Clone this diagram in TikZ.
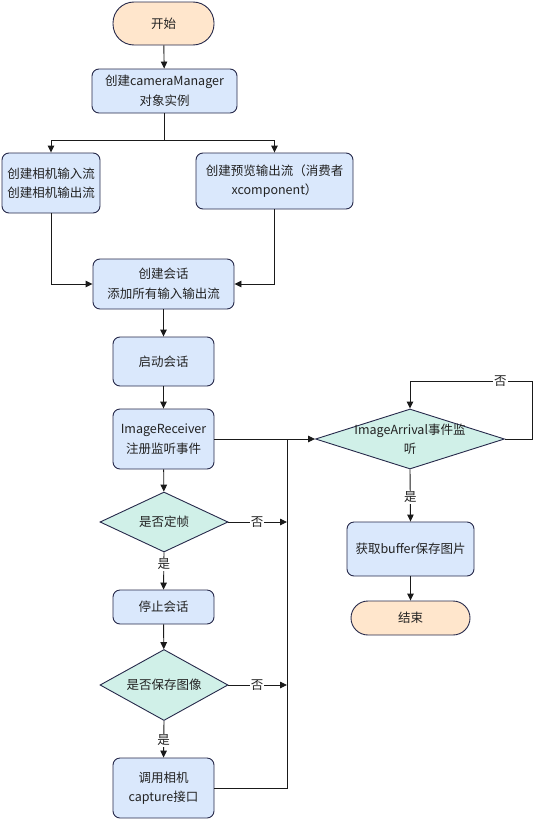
\documentclass[tikz,border=0pt]{standalone}
\usepackage{fontspec}
\setmainfont{Noto Sans CJK SC}
\usetikzlibrary{arrows.meta,shapes.geometric}
\definecolor{bordc}{HTML}{26294A}
\definecolor{linec}{HTML}{1A1A1A}
\definecolor{txtc}{HTML}{222222}
\definecolor{procc}{HTML}{DAE8FC}
\definecolor{termc}{HTML}{FFE6CC}
\definecolor{decc}{HTML}{D0F0E8}
\begin{document}
\begin{tikzpicture}[x=1pt,y=-1pt,
  font=\fontsize{12.5}{19.5}\selectfont,
  base/.style={draw=bordc, line width=0.9pt, align=center, inner sep=0pt, text=txtc},
  proc/.style={base, rectangle, rounded corners=7pt, fill=procc},
  term/.style={base, rectangle, rounded corners=17pt, fill=termc},
  dec/.style={base, diamond, fill=decc},
  conn/.style={line width=0.9pt, draw=linec},
  arr/.style={conn, -{Triangle[length=7pt,width=6.5pt]}},
  lab/.style={fill=white, inner sep=1pt, text=txtc}
]
\useasboundingbox (0,0) rectangle (538,819);

\node[term, minimum width=101pt, minimum height=43pt, rounded corners=21pt] (start) at (163.5,23.5) {开始};
\node[proc, minimum width=145pt, minimum height=44pt] (cam) at (164.5,91) {创建cameraManager\\对象实例};
\node[proc, minimum width=98pt, minimum height=60pt] (inp) at (51,183) {创建相机输入流\\创建相机输出流};
\node[proc, minimum width=157pt, minimum height=56pt] (pre) at (274.5,181) {创建预览输出流（消费者\\xcomponent）};
\node[proc, minimum width=141pt, minimum height=50pt] (sess) at (163.5,284) {创建会话\\添加所有输入输出流};
\node[proc, minimum width=101pt, minimum height=49pt] (run) at (163.5,361.5) {启动会话};
\node[proc, minimum width=101pt, minimum height=60pt] (recv) at (163.5,439) {ImageReceiver\\注册监听事件};
\node[dec, minimum width=128pt, minimum height=60pt] (dec1) at (164,522) {};
\node[text=txtc] at (dec1.center) {是否定帧};
\node[proc, minimum width=101pt, minimum height=34pt] (stop) at (163.5,607) {停止会话};
\node[dec, minimum width=128pt, minimum height=71pt] (dec2) at (164,685) {};
\node[text=txtc] at (dec2.center) {是否保存图像};
\node[proc, minimum width=101pt, minimum height=60pt] (cap) at (163.5,788) {调用相机\\capture接口};
\node[dec, minimum width=189pt, minimum height=60pt] (arrv) at (410,439) {};
\node[text=txtc, align=center] at (arrv.center) {ImageArrival事件监\\听};
\node[proc, minimum width=127pt, minimum height=54pt] (buf) at (410.5,549) {获取buffer保存图片};
\node[term, minimum width=119pt, minimum height=34pt] (end) at (410.5,618) {结束};

\coordinate (sp) at (164.5,140);
\coordinate (j1) at (287,522);
\coordinate (j2) at (287,685);
\coordinate (jb) at (287,788);
\coordinate (jt) at (287,439);
\coordinate (lr) at (532,439);
\coordinate (lt) at (532,381);
\coordinate (ll) at (410,381);

\draw[arr] (start) -- (cam);
\draw[conn] (cam) -- (sp);
\draw[arr] (sp) -| (inp.north);
\draw[arr] (sp) -| (pre.north);
\draw[arr] (inp.south) |- (sess.west);
\draw[arr] (pre.south) |- (sess.east);
\draw[arr] (sess) -- (run);
\draw[arr] (run) -- (recv);
\draw[arr] (recv.east) -- (arrv.west);
\draw[arr] (recv) -- (dec1);
\draw[arr] (dec1.east) -- node[lab, pos=0.49] {否} (j1);
\draw[arr] (dec1.south) -- node[lab, pos=0.32] {是} (stop.north);
\draw[arr] (stop) -- (dec2);
\draw[arr] (dec2.east) -- node[lab, pos=0.49] {否} (j2);
\draw[arr] (dec2.south) -- node[lab, pos=0.53] {是} (cap.north);
\draw[conn] (cap.east) -- (jb) -- (jt);
\draw[arr] (arrv.east) -- (lr) -- (lt) -- node[lab, pos=0.26] {否} (ll) -- (arrv.north);
\draw[arr] (arrv.south) -- node[lab, pos=0.53] {是} (buf.north);
\draw[arr] (buf) -- (end);
\end{tikzpicture}
\end{document}
